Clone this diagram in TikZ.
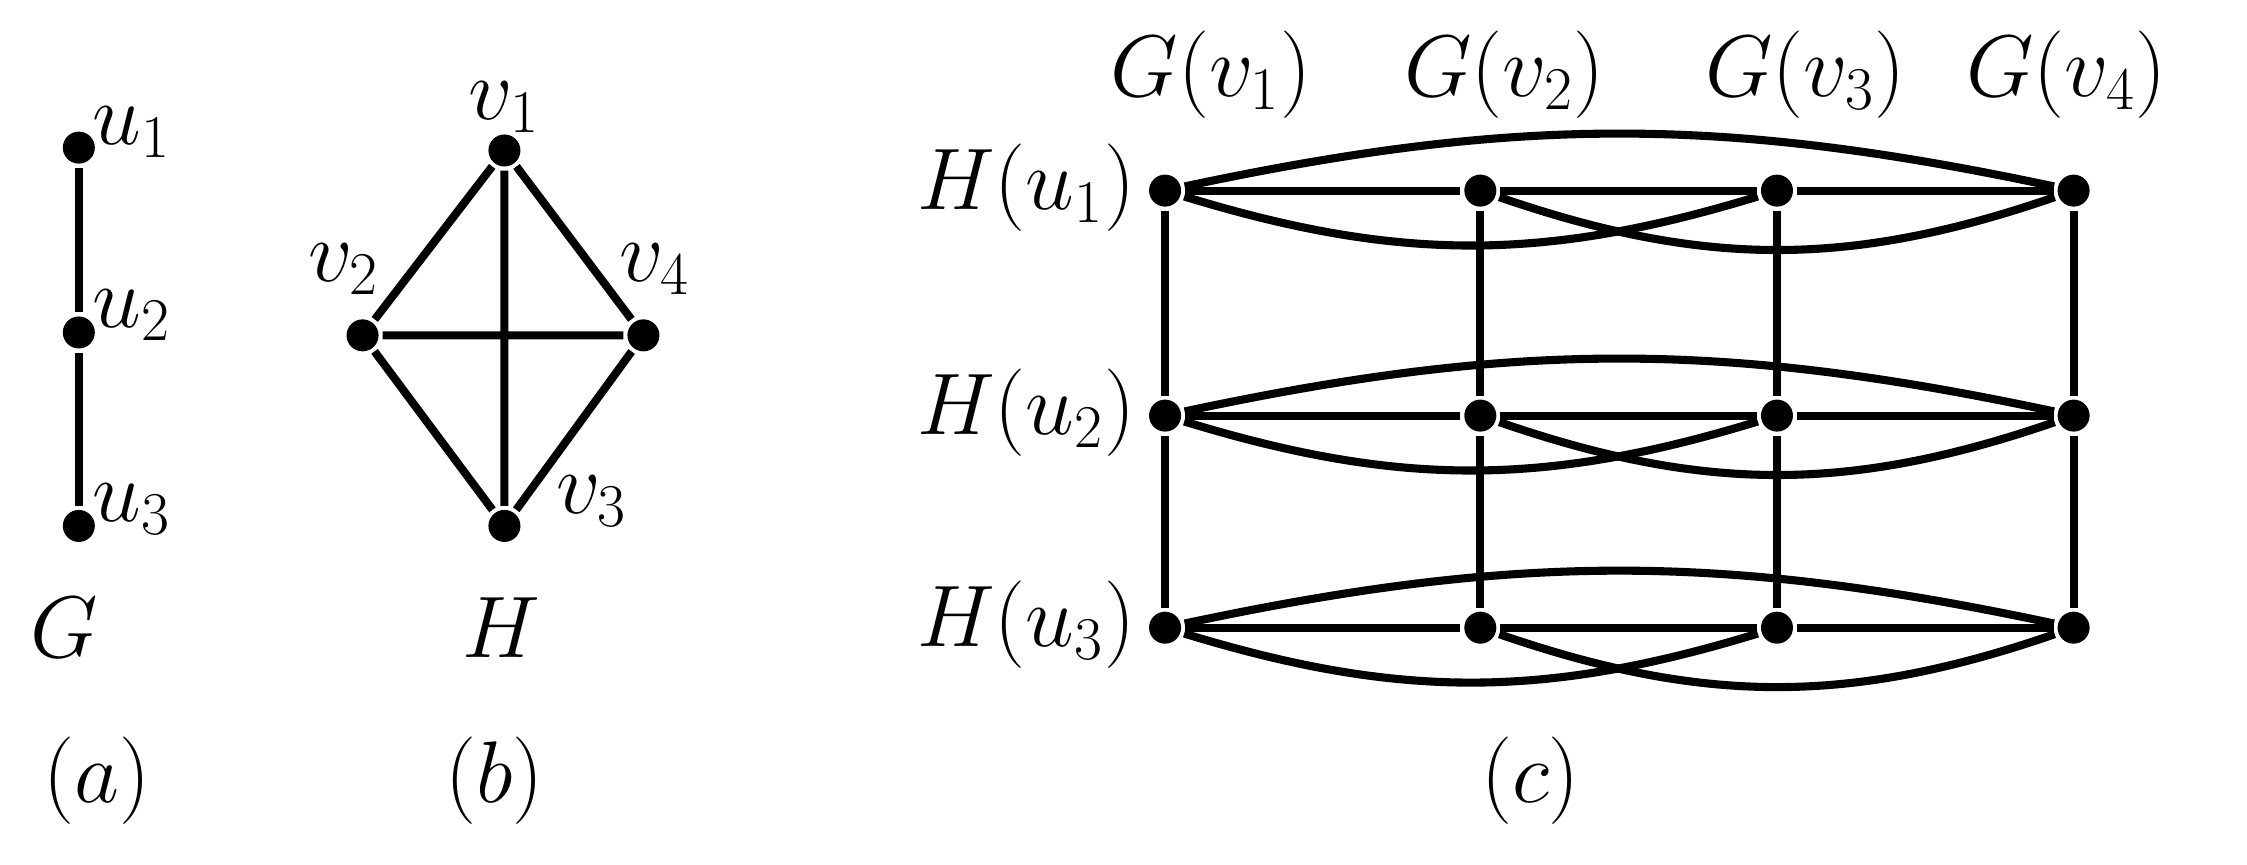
\documentclass[tikz,border=0pt]{standalone}
\begin{document}
\begin{tikzpicture}[x=0.01433cm,y=-0.01433cm,line width=2.3pt,
  vtx/.style={circle,fill=black,inner sep=0pt,minimum size=0.32cm},
  lbl/.style={font=\fontsize{26}{31}\selectfont,inner sep=0pt}]
\useasboundingbox (0,0) rectangle (1568,603);
% (a)
\node[vtx] (u1) at (55,103) {};
\node[vtx] (u2) at (55,232) {};
\node[vtx] (u3) at (55,367) {};
\draw (u1)--(u2)--(u3);
\node[lbl] at (92,92) {$u_1$};
\node[lbl] at (92,220) {$u_2$};
\node[lbl] at (92,355) {$u_3$};
\node[lbl] at (45,438) {$G$};
\node[lbl] at (68,545) {$(a)$};
% (b)
\node[vtx] (v1) at (352,105) {};
\node[vtx] (v2) at (253,234) {};
\node[vtx] (v4) at (449,234) {};
\node[vtx] (v3) at (352,367) {};
\draw (v1)--(v2)--(v3)--(v4)--(v1) (v1)--(v3) (v2)--(v4);
\node[lbl] at (352,75) {$v_1$};
\node[lbl] at (240,188) {$v_2$};
\node[lbl] at (457,188) {$v_4$};
\node[lbl] at (413,350) {$v_3$};
\node[lbl] at (350,438) {$H$};
\node[lbl] at (345,545) {$(b)$};
% (c)
\foreach \r/\y in {1/133,2/290,3/438}{
  \node[vtx] (a\r) at (813,\y) {};
  \node[vtx] (b\r) at (1033,\y) {};
  \node[vtx] (c\r) at (1240,\y) {};
  \node[vtx] (d\r) at (1447,\y) {};
  \draw (a\r)--(b\r)--(c\r)--(d\r);
  \draw (a\r) to[bend left=12] (d\r);
  \draw (a\r) to[bend right=17] (c\r);
  \draw (b\r) to[bend right=19] (d\r);
  \node[lbl,anchor=east] at (795,\y-2) {$H(u_\r)$};
}
\foreach \c in {a,b,c,d}{\draw (\c1)--(\c2)--(\c3);}
\node[lbl] at (845,52) {$G(v_1)$};
\node[lbl] at (1050,52) {$G(v_2)$};
\node[lbl] at (1260,52) {$G(v_3)$};
\node[lbl] at (1442,52) {$G(v_4)$};
\node[lbl] at (1068,545) {$(c)$};
\end{tikzpicture}
\end{document}
